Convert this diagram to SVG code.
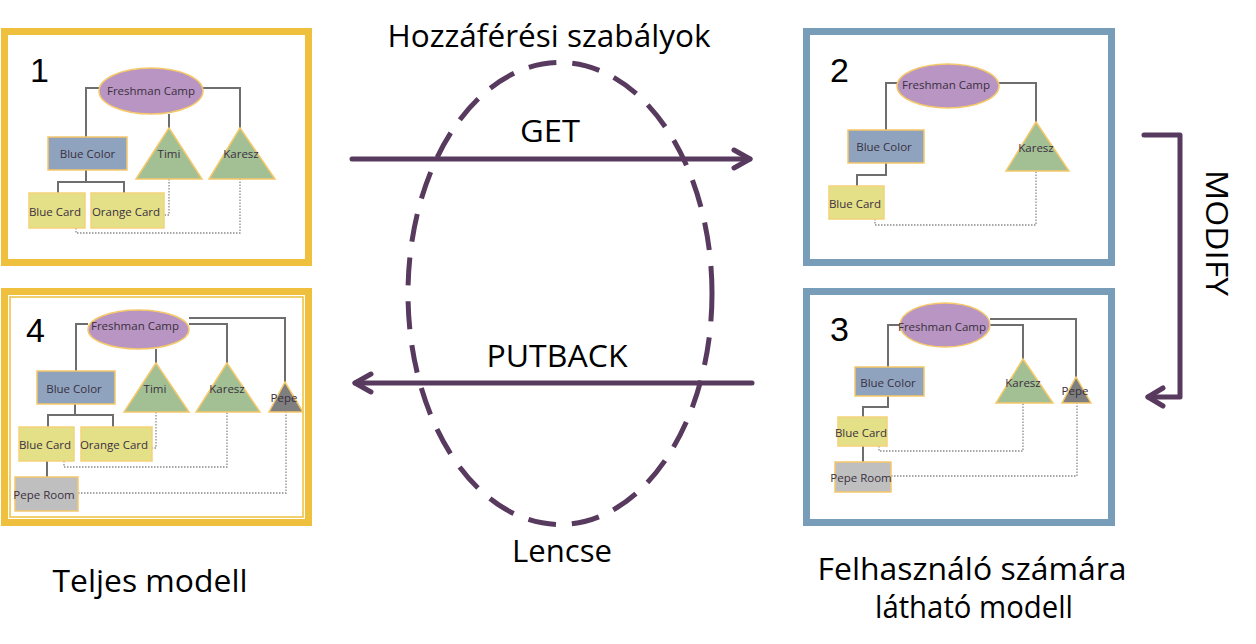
<svg xmlns="http://www.w3.org/2000/svg" width="1256" height="644" viewBox="0 0 1256 644">
<style>
.big{font-family:"Open Sans","Liberation Sans",sans-serif;font-size:31px;fill:#000;text-anchor:middle}
.num{font-family:"Liberation Sans",sans-serif;font-size:34px;fill:#000}
.lbl{font-family:"Open Sans","Liberation Sans",sans-serif;font-size:11.5px;fill:#3a3040;text-anchor:middle;dominant-baseline:central}
.ell{fill:#b895c2;stroke:#f5c86a;stroke-width:1.5}
.bc{fill:#8fa3bf;stroke:#f5c86a;stroke-width:1.5}
.tri{fill:#a3bf94;stroke:#f5c86a;stroke-width:1.5}
.tri2{fill:#7f7f7f;stroke:#f5c86a;stroke-width:1.5}
.card{fill:#e4e088;stroke:#f5d27a;stroke-width:1.5}
.room{fill:#bfbfbf;stroke:#f5c86a;stroke-width:1.5}
.ln{fill:none;stroke:#6e6e6e;stroke-width:2}
.dt{fill:none;stroke:#8a8a8a;stroke-width:1.3;stroke-dasharray:1.5 1.5}
.arr{fill:none;stroke:#573a5e;stroke-width:5;stroke-linecap:round;stroke-linejoin:round}
</style>
<rect width="1256" height="644" fill="#fff"/>

<!-- Panel 1 -->
<g id="panel1">
<rect x="4.5" y="31.5" width="304" height="231" fill="#fff" stroke="#eec03e" stroke-width="7"/>
<text class="num" x="30" y="82">1</text>
<g class="ln"><polyline points="99,88 86,88 86,137"/><polyline points="203,88 240,88 240,128"/><line x1="169" y1="114" x2="169" y2="128"/><polyline points="86,170 86,182"/><polyline points="58,193 58,182 124,182 124,193"/></g>
<g class="dt"><polyline points="169,179 169,215 164,215"/><polyline points="76,228 76,233 240,233 240,179"/></g>
<ellipse class="ell" cx="151" cy="91" rx="52" ry="23"/><text class="lbl" x="151" y="90">Freshman Camp</text>
<rect class="bc" x="48" y="137" width="79" height="33"/><text class="lbl" x="87.5" y="153.5">Blue Color</text>
<polygon class="tri" points="169,128 136,179 202,179"/><text class="lbl" x="169" y="153">Timi</text>
<polygon class="tri" points="240,128 209,179 275,179"/><text class="lbl" x="241" y="153">Karesz</text>
<rect class="card" x="29" y="193" width="56" height="35"/><text class="lbl" x="55" y="211">Blue Card</text>
<rect class="card" x="91" y="193" width="73" height="35"/><text class="lbl" x="126" y="211">Orange Card</text>
</g>

<!-- Panel 2 -->
<g id="panel2">
<rect x="806.5" y="31.5" width="305" height="231" fill="#fff" stroke="#789db9" stroke-width="7"/>
<text class="num" x="830" y="82">2</text>
<g class="ln"><polyline points="897,83 886,83 886,130"/><polyline points="999,83 1036,83 1036,122"/><polyline points="886,163 886,175 857,175 857,186"/></g>
<g class="dt"><polyline points="875,219 875,225 1036,225 1036,171"/></g>
<ellipse class="ell" cx="948" cy="86" rx="51" ry="22"/><text class="lbl" x="946" y="84">Freshman Camp</text>
<rect class="bc" x="848" y="130" width="76" height="33"/><text class="lbl" x="884" y="146.5">Blue Color</text>
<polygon class="tri" points="1036,122 1006,171 1069,171"/><text class="lbl" x="1036" y="147">Karesz</text>
<rect class="card" x="829" y="186" width="55" height="33"/><text class="lbl" x="855" y="203">Blue Card</text>
</g>

<!-- Panel 3 -->
<g id="panel3">
<rect x="806.5" y="291.5" width="305" height="231" fill="#fff" stroke="#789db9" stroke-width="7"/>
<text class="num" x="830" y="341">3</text>
<g class="ln"><polyline points="900,325 888,325 888,367"/><polyline points="990,319 1076,319 1076,377"/><polyline points="990,325 1023,325 1023,359"/><polyline points="888,396 888,407 863,407 863,417"/><line x1="863" y1="446" x2="863" y2="462"/></g>
<g class="dt"><polyline points="879,446 879,451 1023,451 1023,403"/><polyline points="891,476 1077,476 1077,403"/></g>
<ellipse class="ell" cx="945" cy="325" rx="45" ry="22"/><text class="lbl" x="942" y="326">Freshman Camp</text>
<rect class="bc" x="855" y="367" width="69" height="29"/><text class="lbl" x="888" y="382">Blue Color</text>
<polygon class="tri" points="1023,359 996,403 1053,403"/><text class="lbl" x="1023" y="382">Karesz</text>
<polygon class="tri2" points="1076,377 1062,403 1091,403"/><text class="lbl" x="1075" y="390">Pepe</text>
<rect class="card" x="838" y="417" width="49" height="29"/><text class="lbl" x="861" y="432">Blue Card</text>
<rect class="room" x="835" y="462" width="56" height="30"/><text class="lbl" x="861" y="477">Pepe Room</text>
</g>

<!-- Panel 4 -->
<g id="panel4">
<rect x="4.5" y="291.5" width="304" height="231" fill="#fff" stroke="#eec03e" stroke-width="7"/>
<rect x="10" y="297" width="293" height="220" fill="none" stroke="#eec03e" stroke-width="1.5"/>
<text class="num" x="26" y="342">4</text>
<g class="ln"><polyline points="88,324 76,324 76,371"/><polyline points="189,318 285,318 285,382"/><polyline points="189,324 227,324 227,363"/><line x1="156" y1="349" x2="156" y2="363"/><polyline points="75,404 75,415"/><polyline points="48,427 48,415 113,415 113,427"/><line x1="47" y1="461" x2="47" y2="477"/></g>
<g class="dt"><polyline points="156,412 156,448 152,448"/><polyline points="64,461 64,467 227,467 227,412"/><polyline points="78,493 286,493 286,412"/></g>
<ellipse class="ell" cx="138.5" cy="329.5" rx="50.5" ry="19.5"/><text class="lbl" x="135" y="325">Freshman Camp</text>
<rect class="bc" x="37" y="371" width="78" height="33"/><text class="lbl" x="74" y="388">Blue Color</text>
<polygon class="tri" points="156,363 124,412 189,412"/><text class="lbl" x="155" y="388">Timi</text>
<polygon class="tri" points="227,363 196,412 260,412"/><text class="lbl" x="227" y="388">Karesz</text>
<polygon class="tri2" points="285,382 269,412 303,412"/><text class="lbl" x="284" y="397">Pepe</text>
<rect class="card" x="19" y="427" width="55" height="34"/><text class="lbl" x="45" y="444">Blue Card</text>
<rect class="card" x="81" y="427" width="71" height="34"/><text class="lbl" x="114" y="444">Orange Card</text>
<rect class="room" x="15" y="477" width="63" height="34"/><text class="lbl" x="44" y="494">Pepe Room</text>
</g>

<!-- Lens -->
<g id="lens">
<ellipse cx="560" cy="293.5" rx="152" ry="231" fill="none" stroke="#573a5e" stroke-width="5" stroke-dasharray="28 16"/>
</g>

<!-- Connectors -->
<g id="connectors">
<g id="get"><line class="arr" x1="352" y1="159" x2="750" y2="159"/><polyline class="arr" points="734,150 750,159 734,168"/></g>
<g id="putback"><line class="arr" x1="752" y1="383" x2="355" y2="383"/><polyline class="arr" points="371,374 355,383 371,392"/></g>
<g id="modify"><polyline class="arr" points="1144,135 1180,135 1180,397 1148,397"/><polyline class="arr" points="1163,388 1148,397 1163,406"/></g>
</g>

<!-- Labels -->
<g id="labels">
<text class="big" x="549" y="47" textLength="323" lengthAdjust="spacingAndGlyphs">Hozzáférési szabályok</text>
<text class="big" x="550" y="142" textLength="60" lengthAdjust="spacingAndGlyphs">GET</text>
<text class="big" x="557" y="367" textLength="141" lengthAdjust="spacingAndGlyphs">PUTBACK</text>
<text class="big" x="562" y="562" textLength="100" lengthAdjust="spacingAndGlyphs">Lencse</text>
<text class="big" x="150" y="592" textLength="195" lengthAdjust="spacingAndGlyphs">Teljes modell</text>
<text class="big" x="972" y="580" textLength="309" lengthAdjust="spacingAndGlyphs">Felhasználó számára</text>
<text class="big" x="974" y="618" textLength="198" lengthAdjust="spacingAndGlyphs">látható modell</text>
<text class="big" transform="translate(1206,233) rotate(90)" x="0" y="0" textLength="126" lengthAdjust="spacingAndGlyphs">MODIFY</text>
</g>
</svg>
